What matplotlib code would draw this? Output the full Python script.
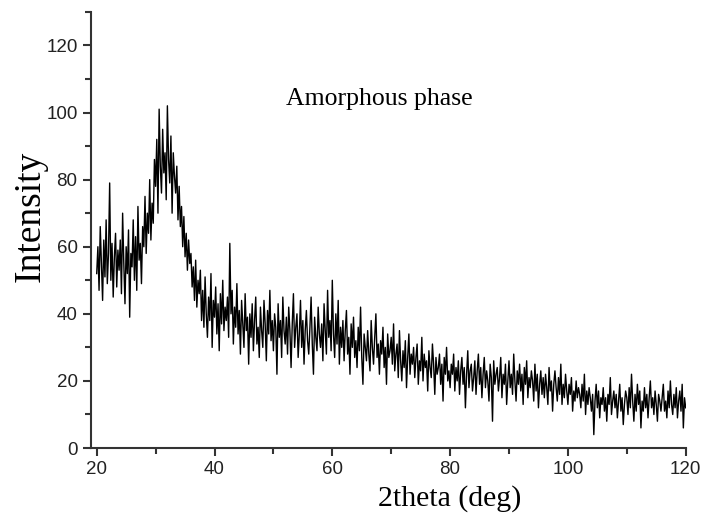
import matplotlib
matplotlib.use("Agg")
import matplotlib.pyplot as plt
import numpy as np
from matplotlib.ticker import MultipleLocator

matplotlib.rcParams.update({'font.size': 13.5, 'font.family': 'Liberation Sans'})

# intensity, one value every 0.2 deg from 20 to 120
intensity = [
    52, 60, 47, 66, 55, 44, 62, 51, 68, 49,
    58, 79, 50, 61, 45, 57, 64, 48, 59, 53,
    62, 46, 70, 55, 43, 60, 52, 65, 39, 58,
    54, 68, 50, 63, 47, 72, 56, 61, 49, 66,
    60, 75, 58, 70, 64, 80, 62, 73, 67, 86,
    78, 92, 70, 101, 84, 76, 95, 82, 88, 74,
    102, 86, 79, 93, 70, 88, 81, 76, 84, 68,
    78, 66, 72, 60, 69, 57, 64, 53, 62, 55,
    58, 48, 54, 44, 56, 42, 50, 46, 53, 38,
    47, 36, 51, 40, 33, 45, 38, 52, 30, 44,
    39, 48, 34, 43, 29, 46, 37, 50, 35, 42,
    38, 45, 33, 61, 40, 47, 31, 42, 36, 49,
    34, 41, 28, 44, 37, 30, 46, 35, 39, 25,
    40, 33, 43, 29, 38, 45, 31, 36, 27, 42,
    35, 30, 44, 37, 26, 41, 34, 47, 32, 38,
    29, 40, 36, 22, 43, 33, 38, 27, 45, 35,
    31, 39, 28, 42, 35, 24, 37, 46, 30, 36,
    40, 27, 34, 44, 30, 38, 25, 35, 41, 32,
    28, 36, 45, 31, 22, 39, 33, 29, 42, 34,
    30, 37, 26, 43, 35, 28, 47, 33, 38, 29,
    50, 34, 27, 40, 31, 44, 25, 36, 30, 38,
    26, 35, 41, 28, 33, 22, 37, 30, 39, 27,
    32, 24, 36, 29, 42, 27, 19, 34, 30, 26,
    35, 28, 23, 38, 30, 25, 33, 40, 27, 31,
    22, 32, 28, 36, 24, 30, 19, 34, 27, 29,
    33, 25, 37, 23, 28, 31, 21, 35, 26, 20,
    29, 24, 32, 18, 27, 34, 22, 28, 25, 30,
    21, 27, 31, 19, 26, 23, 33, 20, 28, 24,
    26, 17, 29, 24, 21, 31, 25, 16, 27, 22,
    24, 28, 19, 25, 14, 27, 22, 30, 20, 23,
    18, 25, 22, 28, 17, 24, 20, 26, 16, 23,
    27, 19, 24, 12, 22, 29, 18, 23, 25, 17,
    21, 26, 16, 23, 28, 19, 24, 15, 22, 27,
    18, 23, 20, 14, 25, 21, 8, 26, 19, 22,
    24, 17, 21, 27, 15, 22, 19, 25, 13, 20,
    26, 18, 22, 16, 28, 20, 14, 23, 19, 25,
    17, 22, 13, 24, 19, 26, 15, 21, 18, 23,
    20, 14, 25, 17, 22, 12, 19, 23, 16, 21,
    15, 22, 18, 13, 24, 17, 20, 11, 19, 23,
    18, 14, 21, 16, 25, 13, 19, 15, 22, 17,
    13, 19, 16, 21, 11, 17, 14, 20, 15, 18,
    16, 12, 19, 14, 22, 10, 17, 13, 18, 15,
    11, 16, 4, 14, 19, 12, 17, 9, 15, 13,
    18, 11, 15, 8, 16, 13, 21, 10, 14, 17,
    12, 16, 9, 14, 19, 11, 15, 7, 13, 17,
    15, 10, 18, 12, 22, 14, 8, 16, 11, 19,
    13, 17, 6, 14, 11, 18, 12, 16, 9, 15,
    20, 12, 15, 10, 17, 13, 8, 16, 14, 11,
    15, 19, 11, 14, 9, 17, 12, 20, 13, 10,
    16, 12, 18, 9, 14, 17, 11, 19, 6, 15,
    12,
]
two_theta = np.linspace(20, 120, len(intensity))

fig = plt.figure(figsize=(7.04, 5.15), dpi=100)
ax = fig.add_axes([0.129, 0.130, 0.845, 0.847])

ax.plot(two_theta, intensity, color='black', linewidth=1.0)

ax.set_xlim(19.0, 120)
ax.set_ylim(0, 130)
ax.xaxis.set_major_locator(MultipleLocator(20))
ax.xaxis.set_minor_locator(MultipleLocator(10))
ax.yaxis.set_minor_locator(MultipleLocator(10))
ax.set_yticks([0, 20, 40, 60, 80, 100, 120])

for s in ['top', 'right']:
    ax.spines[s].set_visible(False)
for s in ['left', 'bottom']:
    ax.spines[s].set_linewidth(1.5)
    ax.spines[s].set_color('#333333')
ax.tick_params(which='major', direction='out', length=6, width=1.5, color='#333333', labelcolor='#222222')
ax.tick_params(which='minor', direction='out', length=4, width=1.5, color='#333333')

ax.set_xlabel("2theta (deg)", family='Liberation Serif', fontsize=21.5)
ax.xaxis.set_label_coords(0.603, -0.085)
ax.set_ylabel("Intensity", family='Liberation Serif', fontsize=27)
ax.yaxis.set_label_coords(-0.072, 0.532)
ax.text(68, 104, "Amorphous phase", family='Liberation Serif', fontsize=18.5, ha='center', va='center')

plt.savefig("out.png", dpi=100)
